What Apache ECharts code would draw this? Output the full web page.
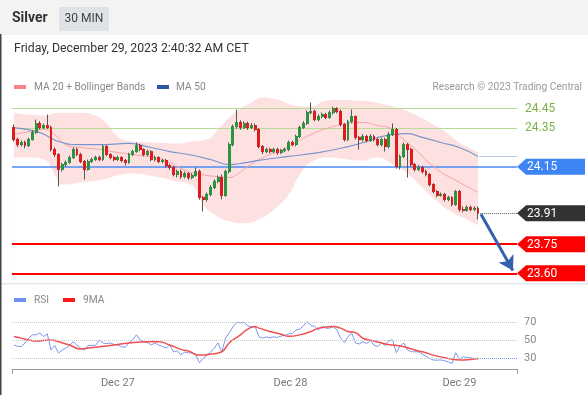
<!DOCTYPE html>
<html><head><meta charset="utf-8">
<script src="https://cdn.jsdelivr.net/npm/echarts@6/dist/echarts.min.js"></script>
<style>html,body{margin:0;padding:0;background:#fff}#c{width:588px;height:395px}</style>
</head><body><div id="c"></div>
<script>
// ---- data ----
const dayLabels = ['Dec 27', 'Dec 28', 'Dec 29'];
const dayTickIndex = [28, 74.5, 120];

const opens = [
24.352,24.290,24.264,24.275,24.259,24.290,24.326,24.373,24.352,24.362,
24.352,24.239,24.213,24.136,24.161,24.172,24.197,24.239,24.213,24.177,
24.136,24.177,24.187,24.197,24.187,24.254,24.213,24.197,24.187,24.197,
24.182,24.172,24.213,24.228,24.259,24.239,24.213,24.228,24.187,24.197,
24.177,24.182,24.156,24.146,24.110,24.125,24.099,24.115,24.094,24.105,
24.125,23.991,23.981,24.007,24.043,24.074,24.094,24.002,24.125,24.264,
24.357,24.378,24.352,24.373,24.352,24.362,24.342,24.254,24.228,24.239,
24.228,24.239,24.223,24.233,24.239,24.275,24.264,24.306,24.352,24.373,
24.429,24.435,24.393,24.409,24.419,24.404,24.429,24.450,24.435,24.368,
24.290,24.383,24.409,24.301,24.290,24.306,24.285,24.306,24.290,24.264,
24.290,24.254,24.316,24.342,24.151,24.203,24.264,24.239,24.161,24.136,
24.146,24.125,24.110,24.058,24.022,24.002,24.007,23.981,23.991,23.955,
24.022,23.929,23.925,23.940,23.929,23.935];
const closes = [
24.290,24.264,24.275,24.259,24.290,24.326,24.373,24.352,24.362,24.352,
24.239,24.213,24.136,24.161,24.172,24.197,24.239,24.213,24.177,24.136,
24.177,24.187,24.197,24.187,24.254,24.213,24.197,24.187,24.197,24.182,
24.172,24.213,24.228,24.259,24.239,24.213,24.228,24.187,24.197,24.177,
24.182,24.156,24.146,24.110,24.125,24.099,24.115,24.094,24.105,24.125,
23.991,23.981,24.007,24.043,24.074,24.094,24.002,24.125,24.264,24.357,
24.378,24.352,24.373,24.352,24.362,24.342,24.254,24.228,24.239,24.228,
24.239,24.223,24.233,24.239,24.275,24.264,24.306,24.352,24.373,24.429,
24.435,24.393,24.409,24.419,24.404,24.429,24.450,24.435,24.368,24.290,
24.383,24.409,24.301,24.290,24.306,24.285,24.306,24.290,24.264,24.290,
24.254,24.316,24.342,24.151,24.203,24.264,24.239,24.161,24.136,24.146,
24.125,24.110,24.058,24.022,24.002,24.007,23.981,23.991,23.955,24.022,
23.929,23.925,23.940,23.929,23.935,23.910];
const highs = [
24.368,24.300,24.285,24.285,24.300,24.338,24.393,24.385,24.372,24.419,
24.362,24.250,24.220,24.170,24.182,24.207,24.250,24.248,24.222,24.185,
24.187,24.197,24.207,24.207,24.264,24.262,24.220,24.205,24.207,24.205,
24.190,24.222,24.238,24.275,24.268,24.245,24.238,24.235,24.207,24.205,
24.192,24.190,24.165,24.155,24.135,24.135,24.125,24.122,24.115,24.146,
24.135,24.000,24.017,24.055,24.085,24.105,24.110,24.135,24.275,24.368,
24.445,24.390,24.385,24.383,24.375,24.372,24.350,24.262,24.248,24.248,
24.248,24.248,24.242,24.248,24.285,24.285,24.315,24.362,24.385,24.440,
24.481,24.445,24.420,24.430,24.428,24.440,24.460,24.458,24.445,24.375,
24.392,24.445,24.415,24.310,24.318,24.315,24.318,24.315,24.298,24.300,
24.300,24.328,24.373,24.350,24.212,24.275,24.272,24.248,24.170,24.158,
24.155,24.135,24.118,24.065,24.030,24.017,24.015,24.000,23.998,24.030,
24.030,23.945,23.950,23.950,23.945,23.945];
const lows = [
24.280,24.252,24.255,24.245,24.252,24.285,24.320,24.342,24.345,24.345,
24.228,24.200,24.048,24.125,24.150,24.165,24.190,24.205,24.168,24.084,
24.130,24.170,24.180,24.178,24.180,24.205,24.188,24.178,24.180,24.172,
24.156,24.165,24.205,24.222,24.230,24.203,24.205,24.178,24.178,24.168,
24.168,24.145,24.135,24.100,24.095,24.088,24.090,24.082,24.085,24.098,
23.980,23.919,23.970,23.998,24.035,24.065,23.981,23.995,24.115,24.255,
24.345,24.340,24.345,24.340,24.345,24.332,24.245,24.215,24.220,24.218,
24.220,24.212,24.215,24.225,24.230,24.255,24.255,24.298,24.345,24.365,
24.420,24.385,24.385,24.400,24.395,24.398,24.420,24.425,24.358,24.280,
24.282,24.375,24.290,24.239,24.280,24.275,24.278,24.280,24.255,24.255,
24.228,24.245,24.308,24.140,24.136,24.195,24.094,24.150,24.125,24.128,
24.115,24.100,24.048,24.012,23.992,23.995,23.970,23.972,23.945,23.948,
23.918,23.915,23.918,23.920,23.920,23.878];

const ma20 = [[0,24.316],[4,24.331],[8,24.342],[11,24.316],[14,24.264],[18,24.249],[23,24.239],[28,24.223],[34,24.208],[40,24.187],[47,24.125],[52,24.105],[55,24.099],[58,24.094],[60,24.110],[63,24.151],[66,24.187],[69,24.213],[74,24.254],[80,24.316],[85,24.352],[90,24.373],[94,24.378],[98,24.362],[101,24.352],[104,24.306],[109,24.223],[114,24.136],[120,24.069],[125,24.017]];
const ma50 = [[0,24.352],[7,24.326],[12,24.280],[18,24.264],[23,24.264],[31,24.270],[37,24.249],[42,24.228],[47,24.213],[53,24.187],[58,24.161],[62,24.170],[66,24.183],[74,24.203],[82,24.223],[90,24.254],[95,24.280],[98,24.301],[102,24.316],[106,24.321],[110,24.301],[115,24.275],[120,24.249],[125,24.203]];
const bbUpper = [[0,24.429],[4,24.419],[8,24.414],[12,24.429],[18,24.429],[22,24.414],[25,24.373],[28,24.306],[32,24.280],[38,24.275],[44,24.270],[48,24.280],[52,24.290],[55,24.342],[58,24.404],[61,24.450],[64,24.481],[67,24.507],[71,24.496],[76,24.465],[80,24.460],[84,24.491],[88,24.496],[92,24.491],[96,24.486],[100,24.470],[104,24.450],[108,24.419],[112,24.378],[116,24.332],[120,24.275],[123,24.244],[125,24.223]];
const bbLower = [[0,24.197],[4,24.197],[8,24.187],[11,24.110],[13,24.058],[18,24.069],[24,24.084],[28,24.105],[32,24.115],[38,24.099],[44,24.074],[48,24.053],[51,23.955],[54,23.904],[58,23.868],[62,23.858],[66,23.878],[70,23.929],[74,24.007],[77,24.110],[80,24.172],[85,24.197],[90,24.187],[94,24.182],[98,24.197],[102,24.161],[106,24.115],[110,24.043],[114,23.970],[118,23.914],[122,23.878],[125,23.847]];

const rsi = [[0,44.4],[1,43],[2,42.6],[3,46.7],[4,52],[5,55.6],[6,55.6],[7,57.8],[8,53.7],[9,56.7],[10,38.9],[11,44],[12,35.6],[13,38.9],[14,41],[15,44],[16,48],[17,44.4],[18,41],[19,38.9],[20,44],[21,44],[22,44],[23,50],[24,46.7],[25,46],[26,46.7],[27,45],[28,44.4],[29,42.6],[30,42],[31,46.7],[32,50],[33,55.6],[34,50],[35,48],[36,47],[37,44.4],[38,46.7],[39,44.4],[40,43],[41,41],[42,44.4],[43,36.7],[44,38],[45,33.3],[46,36.7],[47,35.6],[48,36],[49,33.3],[50,24.8],[51,30],[52,33],[53,36.7],[54,41],[55,46.7],[56,36.7],[57,52],[58,57.8],[59,64.4],[60,69.3],[61,68.9],[62,69.3],[63,65.6],[64,64.4],[65,64.4],[66,53.7],[67,52],[68,53.3],[69,52.5],[70,53.3],[71,52.8],[72,54.4],[73,55],[74,56.7],[75,57],[76,61.1],[77,62],[78,65.6],[79,70.3],[80,66],[81,64.8],[82,61],[83,64.8],[84,63],[85,63],[86,64.8],[87,61],[88,52],[89,47],[90,53.7],[91,57.4],[92,46.7],[93,45.6],[94,48],[95,46],[96,49.3],[97,44.4],[98,42.6],[99,46.7],[100,44],[101,49.3],[102,50],[103,35.9],[104,43.3],[105,46.7],[106,38.9],[107,37],[108,37],[109,37],[110,34.4],[111,32],[112,29.6],[113,27.8],[114,27.8],[115,28],[116,27],[117,25.9],[118,24.1],[119,35.9],[120,28.5],[121,31.5],[122,30.7],[123,30.5],[124,29.6],[125,29.3]];
const rsiMa = [[0,53.7],[2,52],[4,50],[6,48.9],[10,50],[12,48],[15,44.4],[18,40],[20,41],[23,42.6],[27,44.4],[31,46.7],[37,48],[39,48],[42,44.4],[45,39.6],[47,37.8],[50,33.3],[53,34.4],[56,37],[58,46.7],[61,55.6],[63,61.9],[65,64.8],[66,63],[69,59.3],[72,56.3],[74,54],[77,55.6],[80,59.3],[82,63],[86,64.8],[88,63],[90,59.3],[92,58.1],[94,51.9],[97,48.9],[100,45.6],[102,44.4],[105,42.6],[108,38.9],[110,37],[114,32.2],[117,29.6],[120,27.8],[123,28.5],[125,29.6]];

const resistLevels = [24.45, 24.35];
const pivotLevel = 24.15;
const supportLevels = [23.75, 23.60];
const lastPrice = 23.91;
const ma50Last = 24.203;
const rsiLast = 29.3;
const rsiLevels = [30, 50, 70];
const tagLevels = [24.15, 23.91, 23.75, 23.60];
const tagColors = ['#3d84f5', '#333333', '#ff0000', '#ff0000'];
const arrowFrom = [125.8, 23.905];
const arrowTo = [134.4, 23.615];

// ---- chart ----
const chart = echarts.init(document.getElementById('c'), null, {renderer: 'canvas'});
const candles = opens.map((o, i) => [i, o, closes[i], lows[i], highs[i]]);
const bodies = opens.map((o, i) => [i, o, closes[i], Math.min(o, closes[i]), Math.max(o, closes[i])]);
const XMAX = 135.5;
const FONT = 'Roboto, "Liberation Sans", sans-serif';

const mainMarks = [];
resistLevels.forEach(v => mainMarks.push({yAxis: v, lineStyle: {color: '#b8dc96', width: 1.2, type: 'solid'},
  label: {show: true, position: 'end', distance: 8, color: '#7cb342', fontSize: 12, fontFamily: FONT, formatter: p => Number(p.value).toFixed(2)}}));
mainMarks.push({yAxis: pivotLevel, lineStyle: {color: '#4a8af4', width: 1.5, type: 'solid'}, label: {show: false}});
supportLevels.forEach(v => mainMarks.push({yAxis: v, lineStyle: {color: '#ff0000', width: 2, type: 'solid'}, label: {show: false}}));
mainMarks.push([{coord: [125.6, lastPrice]}, {coord: [XMAX, lastPrice], lineStyle: {color: '#555', width: 1, type: 'dotted'}, label: {show: false}}]);
mainMarks.push([{coord: [125.4, ma50Last]}, {coord: [XMAX, ma50Last], lineStyle: {color: '#7b96cc', width: 1, type: 'dotted'}, label: {show: false}}]);
mainMarks.push([{coord: arrowFrom, symbol: 'none'}, {coord: arrowTo, symbol: 'arrow', symbolSize: [13, 14], lineStyle: {color: '#3461ad', width: 3, type: 'solid'}, label: {show: false}}]);

const option = {
  animation: false,
  textStyle: {fontFamily: FONT},
  grid: [
    {left: 12, right: 71, top: 95, height: 188},
    {left: 12, right: 71, top: 300, height: 69}
  ],
  xAxis: [
    {type: 'value', gridIndex: 0, min: -0.5, max: XMAX, show: false},
    {type: 'value', gridIndex: 1, min: -0.5, max: XMAX,
      axisLine: {show: true, lineStyle: {color: '#999', width: 1}},
      axisTick: {show: true, customValues: [-0.5, XMAX], length: 5, lineStyle: {color: '#999'}},
      axisLabel: {customValues: dayTickIndex, color: '#777', fontSize: 11, margin: 9,
        formatter: v => dayLabels[dayTickIndex.indexOf(v)] || ''},
      splitLine: {show: false}}
  ],
  yAxis: [
    {type: 'value', gridIndex: 0, min: 23.55, max: 24.52, show: false},
    {type: 'value', gridIndex: 1, min: 18, max: 94, show: false}
  ],
  graphic: [
    {type: 'rect', shape: {x: 0, y: 0, width: 588, height: 35}, style: {fill: '#f3f3f3'}, z: -10},
    {type: 'rect', shape: {x: 0, y: 34, width: 1.5, height: 361}, style: {fill: '#444'}},
    {type: 'text', x: 12, y: 18, style: {text: 'Silver', font: 'bold 14px ' + FONT, fill: '#333', verticalAlign: 'middle'}},
    {type: 'rect', shape: {x: 59, y: 7, width: 50, height: 24, r: 2}, style: {fill: '#dfe2e6'}},
    {type: 'text', x: 84, y: 19, style: {text: '30 MIN', font: '12px ' + FONT, fill: '#444', align: 'center', verticalAlign: 'middle'}},
    {type: 'text', x: 14, y: 49, style: {text: 'Friday, December 29, 2023 2:40:32 AM CET', font: '12.3px ' + FONT, fill: '#333', verticalAlign: 'middle'}},
    {type: 'rect', shape: {x: 14, y: 85, width: 12, height: 4}, style: {fill: '#ff8585'}},
    {type: 'text', x: 34, y: 87, style: {text: 'MA 20 + Bollinger Bands', font: '10.2px ' + FONT, fill: '#888', verticalAlign: 'middle'}},
    {type: 'rect', shape: {x: 157, y: 85, width: 12, height: 4}, style: {fill: '#2f55a4'}},
    {type: 'text', x: 176, y: 87, style: {text: 'MA 50', font: '10.2px ' + FONT, fill: '#888', verticalAlign: 'middle'}},
    {type: 'text', x: 582, y: 87, style: {text: 'Research \u00a9 2023 Trading Central', font: '10.2px ' + FONT, fill: '#999', align: 'right', verticalAlign: 'middle'}},
    {type: 'rect', shape: {x: 0, y: 283, width: 588, height: 1.5}, style: {fill: '#e4e9ee'}, z: -5},
    {type: 'rect', shape: {x: 14, y: 298, width: 12, height: 4}, style: {fill: '#6f8fef'}},
    {type: 'text', x: 34, y: 300, style: {text: 'RSI', font: '10.2px ' + FONT, fill: '#888', verticalAlign: 'middle'}},
    {type: 'rect', shape: {x: 63, y: 298, width: 12, height: 4}, style: {fill: '#ff1a1a'}},
    {type: 'text', x: 83, y: 300, style: {text: '9MA', font: '10.2px ' + FONT, fill: '#888', verticalAlign: 'middle'}}
  ],
  series: [
    {type: 'line', xAxisIndex: 0, yAxisIndex: 0, data: bbUpper, smooth: true, showSymbol: false, silent: true,
      lineStyle: {width: 0}, areaStyle: {color: '#fde1e1', origin: 'start', opacity: 1}, z: 1},
    {type: 'line', xAxisIndex: 0, yAxisIndex: 0, data: bbLower, smooth: true, showSymbol: false, silent: true,
      lineStyle: {width: 0}, areaStyle: {color: '#ffffff', origin: 'start', opacity: 1}, z: 1},
    {type: 'line', xAxisIndex: 0, yAxisIndex: 0, data: ma20, smooth: true, showSymbol: false, silent: true,
      lineStyle: {color: '#f5a3a3', width: 1}, z: 2},
    {type: 'line', xAxisIndex: 0, yAxisIndex: 0, data: ma50, smooth: true, showSymbol: false, silent: true,
      lineStyle: {color: '#7b96cc', width: 1.2}, z: 2},
    {type: 'candlestick', xAxisIndex: 0, yAxisIndex: 0, data: candles, encode: {x: 0, y: [1, 2, 3, 4]},
      barWidth: 2.4, silent: true, z: 3,
      itemStyle: {color: '#555', color0: '#555', borderColor: '#555', borderColor0: '#555', borderWidth: 1},
      markLine: {silent: true, symbol: ['none', 'none'], precision: 2, data: mainMarks, z: 2}},
    {type: 'candlestick', xAxisIndex: 0, yAxisIndex: 0, data: bodies, encode: {x: 0, y: [1, 2, 3, 4]},
      barWidth: 2.4, silent: true, z: 4,
      itemStyle: {color: '#2a9440', color0: '#e01b1b', borderColor: '#2a9440', borderColor0: '#e01b1b', borderWidth: 1}},
    {type: 'custom', xAxisIndex: 0, yAxisIndex: 0, clip: false, silent: true, z: 10,
      data: tagLevels.map(v => [XMAX, v]), encode: {x: 0, y: 1},
      renderItem: function (params, api) {
        const p = api.coord([api.value(0), api.value(1)]);
        const x = p[0], y = p[1], h = 8;
        return {type: 'group', children: [
          {type: 'polygon', shape: {points: [[x, y], [x + 9, y - h], [x + 68, y - h], [x + 68, y + h], [x + 9, y + h]]},
            style: {fill: tagColors[params.dataIndex]}},
          {type: 'text', x: x + 10, y: y + 0.5, style: {text: api.value(1).toFixed(2), fill: '#fff', font: '12px ' + FONT, verticalAlign: 'middle'}}
        ]};
      }},
    {type: 'line', xAxisIndex: 1, yAxisIndex: 1, data: rsi, showSymbol: false, silent: true,
      lineStyle: {color: '#7b95ec', width: 1}, z: 3,
      markLine: {silent: true, symbol: ['none', 'none'],
        data: rsiLevels.map(v => ({yAxis: v, lineStyle: {color: '#c9c9c9', width: 1, type: 'dotted'},
          label: {show: true, position: 'end', distance: 7, color: '#888', fontSize: 11, formatter: p => String(Math.round(p.value))}}))
          .concat([[{coord: [125, rsiLast]}, {coord: [XMAX, rsiLast], lineStyle: {color: '#7b95ec', width: 1, type: 'dotted'}, label: {show: false}}]])}},
    {type: 'line', xAxisIndex: 1, yAxisIndex: 1, data: rsiMa, smooth: true, showSymbol: false, silent: true,
      lineStyle: {color: '#f25050', width: 1.5}, z: 4}
  ]
};
chart.setOption(option);
</script>
</body></html>
